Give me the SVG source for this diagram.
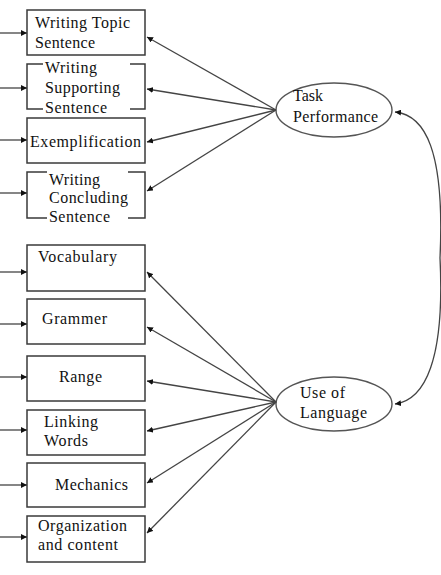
<svg xmlns="http://www.w3.org/2000/svg" width="441" height="575" viewBox="0 0 441 575">
<style>
.box{fill:none;stroke:#3a3a3a;stroke-width:1.5}
.ell{fill:none;stroke:#555;stroke-width:1.4}
.con{fill:none;stroke:#444;stroke-width:1.3;marker-end:url(#ah)}
text{font-family:'Liberation Serif','DejaVu Serif',serif;font-size:16px;fill:#111}
</style>
<defs>
<marker id="ah" viewBox="0 0 10 10" refX="10" refY="5" markerWidth="6" markerHeight="6" markerUnits="userSpaceOnUse" orient="auto">
<path d="M0,0 L10,5 L0,10 z" fill="#111"/>
</marker>
</defs>
<rect width="441" height="575" fill="#fff"/>
<g id="n1"><rect class="box" x="27" y="10" width="118" height="45"/>
<text x="35" y="28" textLength="95" lengthAdjust="spacing">Writing Topic</text>
<text x="35" y="48" textLength="60" lengthAdjust="spacing">Sentence</text></g>
<g id="n2"><path class="box" d="M43,64 H27 V109 H43 M130,64 H145 V109 H130"/>
<text x="45" y="73" textLength="52" lengthAdjust="spacing">Writing</text>
<text x="45" y="93" textLength="75" lengthAdjust="spacing">Supporting</text>
<text x="45" y="113" textLength="62" lengthAdjust="spacing">Sentence</text></g>
<g id="n3"><rect class="box" x="27" y="118" width="118" height="45"/>
<text x="30" y="147" textLength="111" lengthAdjust="spacing">Exemplification</text></g>
<g id="n4"><path class="box" d="M47,172 H27 V218 H47 M128,172 H145 V218 H128"/>
<text x="49" y="185" textLength="51" lengthAdjust="spacing">Writing</text>
<text x="49" y="203" textLength="79" lengthAdjust="spacing">Concluding</text>
<text x="49" y="222" textLength="61" lengthAdjust="spacing">Sentence</text></g>
<g id="n5"><rect class="box" x="27" y="245" width="118" height="46"/>
<text x="38" y="262" textLength="79" lengthAdjust="spacing">Vocabulary</text></g>
<g id="n6"><rect class="box" x="27" y="299" width="118" height="45"/>
<text x="42" y="324" textLength="65" lengthAdjust="spacing">Grammer</text></g>
<g id="n7"><rect class="box" x="27" y="356" width="118" height="45"/>
<text x="59" y="382" textLength="43" lengthAdjust="spacing">Range</text></g>
<g id="n8"><rect class="box" x="27" y="410" width="118" height="45"/>
<text x="44" y="427" textLength="54" lengthAdjust="spacing">Linking</text>
<text x="44" y="446" textLength="44" lengthAdjust="spacing">Words</text></g>
<g id="n9"><rect class="box" x="27" y="463" width="118" height="44"/>
<text x="55" y="490" textLength="73" lengthAdjust="spacing">Mechanics</text></g>
<g id="n10"><rect class="box" x="27" y="516" width="118" height="46"/>
<text x="38" y="531" textLength="89" lengthAdjust="spacing">Organization</text>
<text x="38" y="550" textLength="80" lengthAdjust="spacing">and content</text></g>
<g id="task"><ellipse class="ell" cx="334" cy="110" rx="58" ry="27"/>
<text x="293" y="101">Task</text>
<text x="293" y="122" textLength="85" lengthAdjust="spacing">Performance</text></g>
<g id="lang"><ellipse class="ell" cx="334" cy="404" rx="58" ry="27"/>
<text x="300" y="398" textLength="45" lengthAdjust="spacing">Use of</text>
<text x="300" y="418" textLength="67" lengthAdjust="spacing">Language</text></g>
<g id="connectors">
<line class="con" x1="0" y1="33" x2="27" y2="33"/>
<line class="con" x1="0" y1="88" x2="27" y2="88"/>
<line class="con" x1="0" y1="140" x2="27" y2="140"/>
<line class="con" x1="0" y1="193" x2="27" y2="193"/>
<line class="con" x1="0" y1="272" x2="27" y2="272"/>
<line class="con" x1="0" y1="324" x2="27" y2="324"/>
<line class="con" x1="0" y1="377" x2="27" y2="377"/>
<line class="con" x1="0" y1="430" x2="27" y2="430"/>
<line class="con" x1="0" y1="485" x2="27" y2="485"/>
<line class="con" x1="0" y1="537" x2="27" y2="537"/>
<line class="con" x1="276" y1="110" x2="147" y2="37"/>
<line class="con" x1="276" y1="110" x2="147" y2="89"/>
<line class="con" x1="276" y1="110" x2="147" y2="142"/>
<line class="con" x1="276" y1="110" x2="147" y2="191"/>
<line class="con" x1="276" y1="402" x2="147" y2="272"/>
<line class="con" x1="276" y1="402" x2="147" y2="327"/>
<line class="con" x1="276" y1="402" x2="147" y2="381"/>
<line class="con" x1="276" y1="402" x2="147" y2="431"/>
<line class="con" x1="276" y1="402" x2="147" y2="483"/>
<line class="con" x1="276" y1="402" x2="147" y2="533"/>
<path class="con" d="M440,258 C445,150 425,115 395,112"/>
<path class="con" d="M440,258 C445,360 425,400 395,404"/>
</g>
</svg>
